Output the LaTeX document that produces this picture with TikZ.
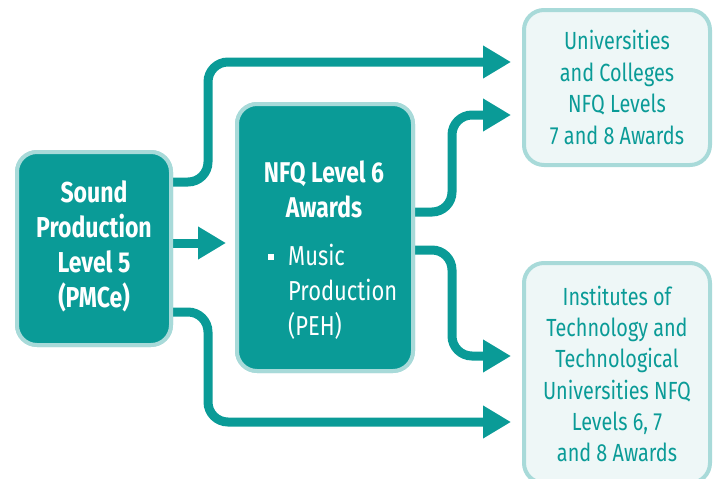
\documentclass[tikz,border=0pt]{standalone}
\usepackage{fontspec}
\setmainfont[FakeStretch=0.8]{Fira Sans}
\usetikzlibrary{arrows.meta}
\definecolor{teal1}{HTML}{0A9B97}
\definecolor{tealborder}{HTML}{A8DAD9}
\definecolor{palefill}{HTML}{EEF7F7}
\begin{document}
\begin{tikzpicture}[x=1pt,y=-1pt,
  darkbox/.style={draw=tealborder,line width=4pt,fill=teal1,rounded corners=20pt,inner sep=0pt},
  lightbox/.style={draw=tealborder,line width=4pt,fill=palefill,rounded corners=20pt,inner sep=0pt},
  arr/.style={draw=teal1,line width=9pt,rounded corners=20pt,-{Triangle[length=28pt,width=31pt]}},
  darktext/.style={text=white,inner sep=0pt},
  lighttext/.style={text=teal1,inner sep=0pt,align=center,font=\fontsize{24.8}{31.4}\selectfont}]
\useasboundingbox (0,0) rectangle (718,479);
% boxes
\node[darkbox,minimum width=154pt,minimum height=193pt] (L) at (94,248.5) {};
\node[darkbox,minimum width=176pt,minimum height=267pt] (M) at (325,237.5) {};
\node[lightbox,minimum width=186pt,minimum height=155pt] (U) at (617,87.5) {};
\node[lightbox,minimum width=186pt,minimum height=220pt] (B) at (617,373) {};
% helper coordinates
\coordinate (h182) at (0,182);
\coordinate (h62) at (0,62);
\coordinate (h243) at (0,243);
\coordinate (h312) at (0,312);
\coordinate (h422) at (0,422);
\coordinate (h212) at (0,212);
\coordinate (h115) at (0,115);
\coordinate (h250) at (0,250);
\coordinate (h356) at (0,356);
\coordinate (v208) at (208,0);
\coordinate (v452) at (452,0);
% arrows
\draw[arr,shorten >=11pt] ([xshift=-3pt]L.east |- h182) -- (v208 |- h182) -- (v208 |- h62) -- (U.west |- h62);
\draw[arr,shorten >=9pt] ([xshift=-3pt]L.east |- h243) -- (M.west |- h243);
\draw[arr,shorten >=11pt] ([xshift=-3pt]L.east |- h312) -- (v208 |- h312) -- (v208 |- h422) -- (B.west |- h422);
\draw[arr,shorten >=11pt] ([xshift=-3pt]M.east |- h212) -- (v452 |- h212) -- (v452 |- h115) -- (U.west |- h115);
\draw[arr,shorten >=11pt] ([xshift=-3pt]M.east |- h250) -- (v452 |- h250) -- (v452 |- h356) -- (B.west |- h356);
% redraw boxes on top of arrow starts
\node[darkbox,minimum width=154pt,minimum height=193pt] at (L) {};
\node[darkbox,minimum width=176pt,minimum height=267pt] at (M) {};
% texts
\node[darktext,align=center,font=\bfseries\fontsize{28.8}{35}\selectfont] (Ltxt) at (94,246) {Sound\\Production\\Level 5\\(PMCe)};
\node[darktext,align=center,font=\bfseries\fontsize{28.6}{35}\selectfont] (Mtitle) at (324,189.5) {NFQ Level 6\\Awards};
\node[fill=white,minimum size=6.5pt,inner sep=0pt] (bul) at (271,257) {};
\node[darktext,anchor=west,align=left,font=\fontsize{27.4}{35}\selectfont] (Mlist) at (288,291.5) {Music\\Production\\(PEH)};
\node[lighttext] (Utxt) at (617,87.5) {Universities\\and Colleges\\NFQ Levels\\7 and 8 Awards};
\node[lighttext,font=\fontsize{24.8}{31.2}\selectfont] (Btxt) at (617,374) {Institutes of\\Technology and\\Technological\\Universities NFQ\\Levels 6, 7\\and 8 Awards};
\end{tikzpicture}
\end{document}
